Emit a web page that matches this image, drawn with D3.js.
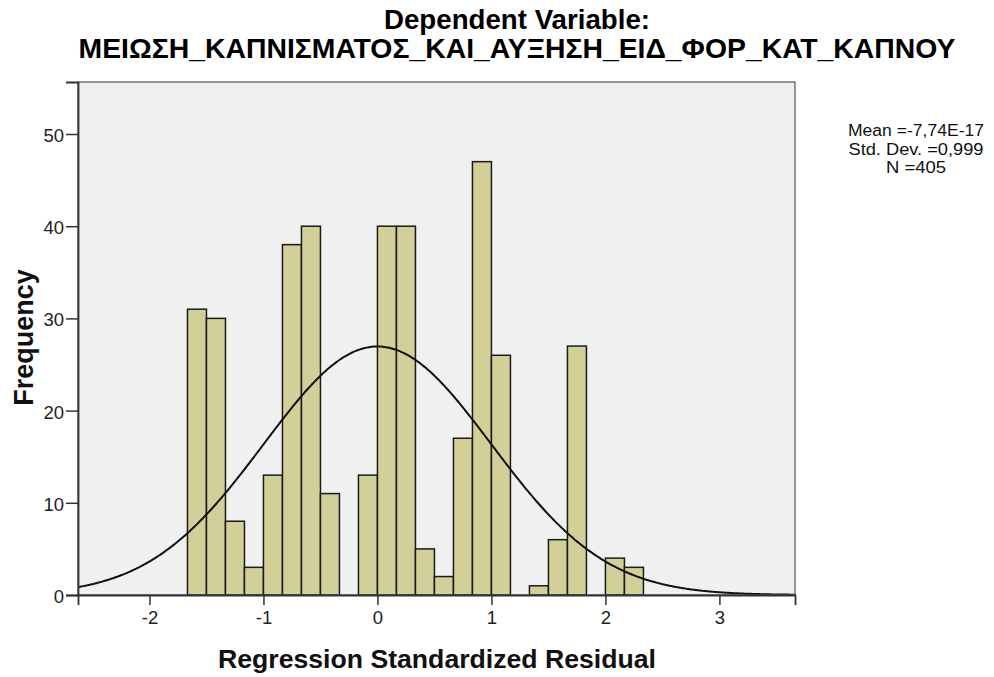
<!DOCTYPE html>
<html>
<head>
<meta charset="utf-8">
<script src="https://cdn.jsdelivr.net/npm/d3@7"></script>
<style>
  html, body { margin: 0; padding: 0; background: #ffffff; }
  svg { display: block; }
  text { font-family: "Liberation Sans", Arial, sans-serif; }
</style>
</head>
<body>
<svg id="chart" width="994" height="677"></svg>
<script>
// Histogram bins: each bin is one sixth of a unit wide, indexed from its lower edge
const binWidth = 1 / 6;
const binIndex = [-10, -9, -8, -7, -6, -5, -4, -3, -2, -1, 0, 1, 2, 3, 4, 5, 6, 7, 8, 9, 10, 11, 12, 13];
const frequency = [31, 30, 8, 3, 13, 38, 40, 11, 0, 13, 40, 40, 5, 2, 17, 47, 26, 0, 1, 6, 27, 0, 4, 3];

// Summary statistics shown beside the plot
const statMean = -7.74e-17;
const statSD = 0.999;
const statN = 405;
const statLines = ["Mean =-7,74E-17", "Std. Dev. =0,999", "N =405"];

// Axis ticks and titles
const xTicks = [-2, -1, 0, 1, 2, 3];
const yTicks = [0, 10, 20, 30, 40, 50];
const titleLines = ["Dependent Variable:", "ΜΕΙΩΣΗ_ΚΑΠΝΙΣΜΑΤΟΣ_ΚΑΙ_ΑΥΞΗΣΗ_ΕΙΔ_ΦΟΡ_ΚΑΤ_ΚΑΠΝΟΥ"];
const xTitle = "Regression Standardized Residual";
const yTitle = "Frequency";

const svg = d3.select("#chart");
const plot = { left: 78, top: 82, right: 795, bottom: 595 };

const x = d3.scaleLinear().domain([-2.627, 3.663]).range([plot.left, plot.right]);
const y = d3.scaleLinear().domain([0, 55.64]).range([plot.bottom, plot.top]);

// Plot background
svg.append("rect")
  .attr("x", plot.left).attr("y", plot.top)
  .attr("width", plot.right - plot.left).attr("height", plot.bottom - plot.top)
  .attr("fill", "#f0f0f0");

svg.append("clipPath").attr("id", "plotClip")
  .append("rect")
  .attr("x", plot.left).attr("y", plot.top)
  .attr("width", plot.right - plot.left).attr("height", plot.bottom - plot.top);

// Bars
const bins = binIndex.map((k, i) => ({ x0: k * binWidth, x1: (k + 1) * binWidth, n: frequency[i] }))
  .filter(d => d.n > 0);

svg.append("g")
  .selectAll("rect")
  .data(bins)
  .join("rect")
  .attr("x", d => x(d.x0))
  .attr("y", d => y(d.n))
  .attr("width", d => x(d.x1) - x(d.x0))
  .attr("height", d => y(0) - y(d.n))
  .attr("fill", "#d3cf98")
  .attr("stroke", "#1a1a1a")
  .attr("stroke-width", 1.5);

// Normal curve scaled to counts per bin
const normal = v => statN * binWidth / (statSD * Math.sqrt(2 * Math.PI)) *
  Math.exp(-0.5 * Math.pow((v - statMean) / statSD, 2));
const curvePts = d3.range(0, 401).map(i => {
  const v = x.domain()[0] + (x.domain()[1] - x.domain()[0]) * i / 400;
  return [v, normal(v)];
});
svg.append("path")
  .datum(curvePts)
  .attr("clip-path", "url(#plotClip)")
  .attr("fill", "none")
  .attr("stroke", "#111")
  .attr("stroke-width", 2)
  .attr("d", d3.line().x(d => x(d[0])).y(d => y(d[1])).curve(d3.curveBasis));

// Frame
svg.append("rect")
  .attr("x", plot.left).attr("y", plot.top)
  .attr("width", plot.right - plot.left).attr("height", plot.bottom - plot.top)
  .attr("fill", "none")
  .attr("stroke", "#555")
  .attr("stroke-width", 1.2);

// Axes
const tickFmt = d => String(d);
const xAxis = svg.append("g")
  .attr("transform", `translate(0,${plot.bottom})`)
  .call(d3.axisBottom(x).tickValues(xTicks).tickSize(10).tickPadding(6).tickFormat(tickFmt));
const yAxis = svg.append("g")
  .attr("transform", `translate(${plot.left},0)`)
  .call(d3.axisLeft(y).tickValues(yTicks).tickSize(12).tickPadding(2).tickFormat(tickFmt));

[xAxis, yAxis].forEach(g => {
  g.select(".domain").attr("stroke", "#333").attr("stroke-width", 1.8);
  g.selectAll(".tick line").attr("stroke", "#333").attr("stroke-width", 1.5);
  g.selectAll(".tick text")
    .attr("fill", "#222")
    .style("font-family", "'Liberation Sans', Arial, sans-serif")
    .style("font-size", "18.5px");
});
yAxis.selectAll(".tick text").attr("dy", "0.4em");

// Title
const titleLayout = [{ y: 29, len: 266 }, { y: 58, len: 877 }];
svg.append("g")
  .selectAll("text")
  .data(titleLines)
  .join("text")
  .attr("x", 517)
  .attr("y", (d, i) => titleLayout[i].y)
  .attr("text-anchor", "middle")
  .attr("textLength", (d, i) => titleLayout[i].len)
  .attr("lengthAdjust", "spacingAndGlyphs")
  .style("font-size", "28px")
  .style("font-weight", "bold")
  .attr("fill", "#000")
  .text(d => d);

// Axis titles
svg.append("text")
  .attr("x", 437).attr("y", 668)
  .attr("text-anchor", "middle")
  .attr("textLength", 438)
  .attr("lengthAdjust", "spacingAndGlyphs")
  .style("font-size", "26px")
  .style("font-weight", "bold")
  .attr("fill", "#111")
  .text(xTitle);

svg.append("text")
  .attr("transform", `translate(33,${337.5}) rotate(-90)`)
  .attr("text-anchor", "middle")
  .style("font-size", "27px")
  .style("font-weight", "bold")
  .attr("fill", "#111")
  .text(yTitle);

// Statistics block
const statLayout = [{ y: 136, len: 136 }, { y: 154.5, len: 135 }, { y: 173, len: 60 }];
svg.append("g")
  .selectAll("text")
  .data(statLines)
  .join("text")
  .attr("x", 916)
  .attr("y", (d, i) => statLayout[i].y)
  .attr("text-anchor", "middle")
  .attr("textLength", (d, i) => statLayout[i].len)
  .attr("lengthAdjust", "spacingAndGlyphs")
  .style("font-size", "16px")
  .attr("fill", "#111")
  .text(d => d);
</script>
</body>
</html>
